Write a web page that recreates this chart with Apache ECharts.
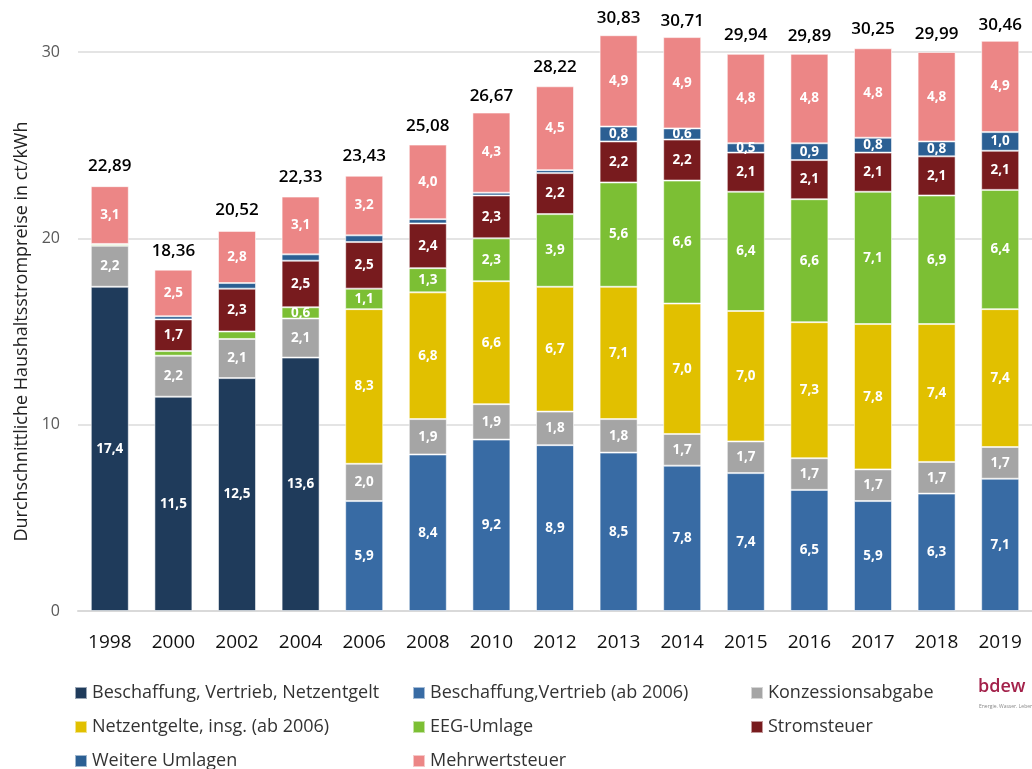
<!DOCTYPE html>
<html>
<head>
<meta charset="utf-8">
<script src="https://cdn.jsdelivr.net/npm/echarts@6/dist/echarts.min.js"></script>
<style>html,body{margin:0;padding:0;background:#fff;}#c{width:1032px;height:769px;}</style>
</head>
<body>
<div id="c"></div>
<script>
const years = ['1998','2000','2002','2004','2006','2008','2010','2012','2013','2014','2015','2016','2017','2018','2019'];
const beschaffungAlt = [17.4, 11.5, 12.5, 13.6, null, null, null, null, null, null, null, null, null, null, null];
const beschaffungNeu = [null, null, null, null, 5.9, 8.4, 9.2, 8.9, 8.5, 7.8, 7.4, 6.5, 5.9, 6.3, 7.1];
const konzession = [2.2, 2.2, 2.1, 2.1, 2.0, 1.9, 1.9, 1.8, 1.8, 1.7, 1.7, 1.7, 1.7, 1.7, 1.7];
const netzentgelte = [null, null, null, null, 8.3, 6.8, 6.6, 6.7, 7.1, 7.0, 7.0, 7.3, 7.8, 7.4, 7.4];
const eeg = [0.1, 0.25, 0.4, 0.6, 1.1, 1.3, 2.3, 3.9, 5.6, 6.6, 6.4, 6.6, 7.1, 6.9, 6.4];
const stromsteuer = [0, 1.7, 2.3, 2.5, 2.5, 2.4, 2.3, 2.2, 2.2, 2.2, 2.1, 2.1, 2.1, 2.1, 2.1];
const weitere = [0, 0.17, 0.3, 0.34, 0.36, 0.23, 0.15, 0.16, 0.8, 0.6, 0.5, 0.9, 0.8, 0.8, 1.0];
const mwst = [3.1, 2.5, 2.8, 3.1, 3.2, 4.0, 4.3, 4.5, 4.9, 4.9, 4.8, 4.8, 4.8, 4.8, 4.9];
const totals = [22.89, 18.36, 20.52, 22.33, 23.43, 25.08, 26.67, 28.22, 30.83, 30.71, 29.94, 29.89, 30.25, 29.99, 30.46];
const yTicks = [0, 10, 20, 30];

const FONT = 'Open Sans';
function bar(name, data, color) {
  return {
    name: name, type: 'bar', stack: 'total', data: data, barWidth: 38, clip: false,
    itemStyle: { color: color, borderColor: 'rgba(255,255,255,0.55)', borderWidth: 1 },
    label: {
      show: true, position: 'inside', color: '#fff', fontFamily: FONT, fontWeight: 'bold', fontSize: 13.5,
      formatter: p => (p.value == null || p.value < 0.45) ? '' : p.value.toFixed(1).replace('.', ',')
    },
    emphasis: { disabled: true }
  };
}
const series = [
  bar('Beschaffung, Vertrieb, Netzentgelt', beschaffungAlt, '#1f3b5b'),
  bar('Beschaffung,Vertrieb (ab 2006)', beschaffungNeu, '#386ba4'),
  bar('Konzessionsabgabe', konzession, '#a5a5a5'),
  bar('Netzentgelte, insg. (ab 2006)', netzentgelte, '#e1c000'),
  bar('EEG-Umlage', eeg, '#7cbf34'),
  bar('Stromsteuer', stromsteuer, '#781b1e'),
  bar('Weitere Umlagen', weitere, '#2b5f93'),
  bar('Mehrwertsteuer', mwst, '#ec8686'),
  {
    name: 'Summe', type: 'line', data: totals, symbol: 'circle', symbolSize: 1, clip: false,
    itemStyle: { color: 'rgba(0,0,0,0)' }, lineStyle: { width: 0, opacity: 0 },
    label: { show: true, position: 'top', distance: 9, color: '#000', fontFamily: FONT, fontSize: 17, fontWeight: 600,
      formatter: p => p.value.toFixed(2).replace('.', ',') },
    z: 10, silent: true
  }
];
function leg(name, left, top) {
  return {
    left: left, top: top, padding: 0, itemWidth: 12, itemHeight: 12, icon: 'rect', selectedMode: false,
    itemGap: 0, data: [name],
    textStyle: { fontFamily: FONT, fontSize: 18, color: '#333', padding: [0, 0, 0, 0] }
  };
}
const colX = [74, 412, 750];
const rowY = [684, 718, 752];
const chart = echarts.init(document.getElementById('c'), null, { renderer: 'canvas' });
chart.setOption({
  animation: false,
  grid: { left: 78, right: -10, top: 52, bottom: 158 },
  legend: [
    leg('Beschaffung, Vertrieb, Netzentgelt', colX[0], rowY[0]),
    leg('Beschaffung,Vertrieb (ab 2006)', colX[1], rowY[0]),
    leg('Konzessionsabgabe', colX[2], rowY[0]),
    leg('Netzentgelte, insg. (ab 2006)', colX[0], rowY[1]),
    leg('EEG-Umlage', colX[1], rowY[1]),
    leg('Stromsteuer', colX[2], rowY[1]),
    leg('Weitere Umlagen', colX[0], rowY[2]),
    leg('Mehrwertsteuer', colX[1], rowY[2])
  ],
  xAxis: {
    type: 'category', data: years,
    axisTick: { show: false },
    axisLine: { lineStyle: { color: '#d9d9d9', width: 2 } },
    axisLabel: { color: '#111', fontFamily: FONT, fontSize: 19, margin: 22, interval: 0 }
  },
  yAxis: {
    type: 'value', min: yTicks[0], max: yTicks[yTicks.length - 1], interval: 10,
    name: 'Durchschnittliche Haushaltsstrompreise in ct/kWh',
    nameLocation: 'middle', nameGap: 47, nameRotate: 90,
    nameTextStyle: { fontFamily: FONT, fontSize: 18, color: '#222' },
    axisLine: { show: false }, axisTick: { show: false },
    axisLabel: { color: '#595959', fontFamily: FONT, fontSize: 16, margin: 18 },
    splitLine: { lineStyle: { color: '#e4e4e4', width: 2 } }
  },
  graphic: [
    { type: 'text', left: 978, top: 678, style: { text: 'bdew', font: '600 18px "Open Sans"', fill: '#a3214a' } },
    { type: 'text', left: 979, top: 704, style: { text: 'Energie. Wasser. Leben.', font: '5px "Open Sans"', fill: '#888' } }
  ],
  series: series
});
</script>
</body>
</html>
